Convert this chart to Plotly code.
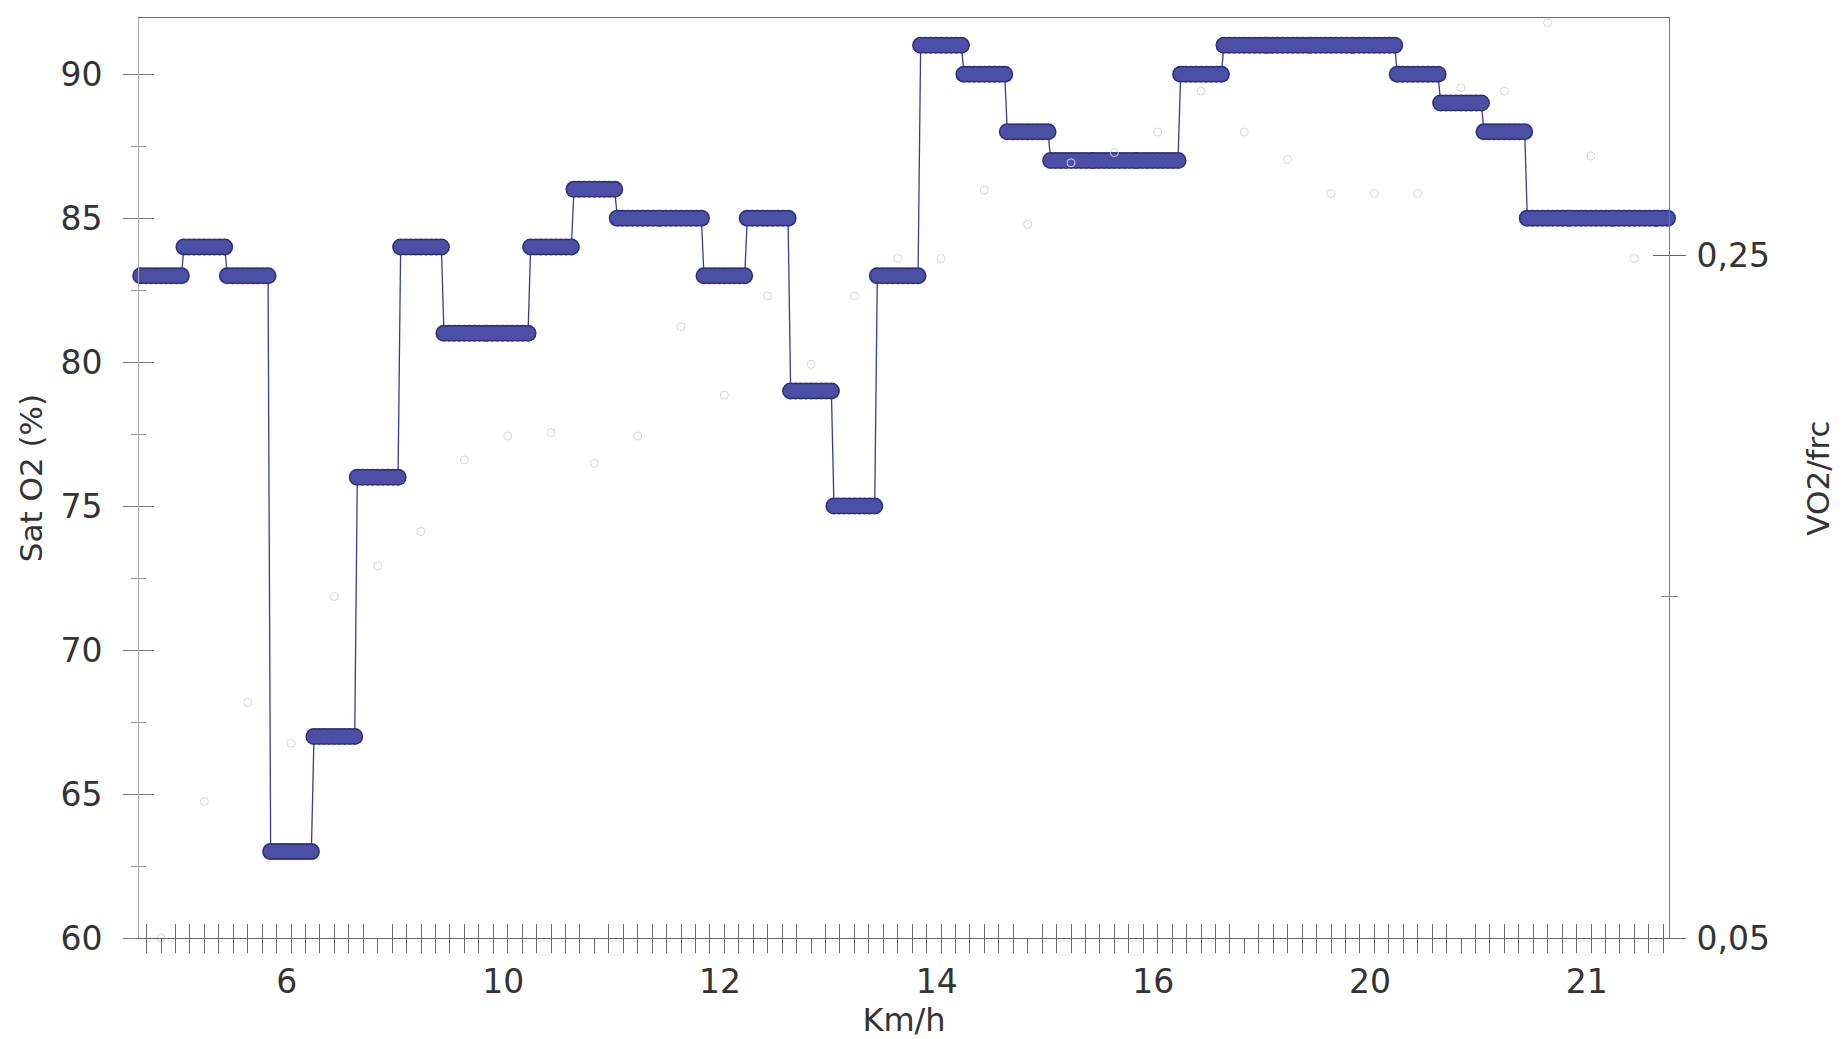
import numpy as np
import plotly.graph_objects as go

# ---- data ----
step_index = list(range(36))
sat_o2 = [83, 84, 83, 63, 67, 76, 84, 81, 81, 84, 86, 85, 85, 83, 85, 79, 75, 83,
          91, 90, 88, 87, 87, 87, 90, 91, 91, 91, 91, 90, 89, 88, 85, 85, 85, 85]

vo2_index = list(range(35))
vo2_frc = [0.050, 0.090, 0.119, 0.107, 0.150, 0.159, 0.169, 0.190, 0.197, 0.198,
           0.189, 0.197, 0.229, 0.209, 0.238, 0.218, 0.238, 0.249, 0.249, 0.269,
           0.259, 0.277, 0.280, 0.286, 0.298, 0.286, 0.278, 0.268, 0.268, 0.268,
           0.299, 0.298, 0.318, 0.279, 0.249]

kmh_labels = ["6", "10", "12", "14", "16", "20", "21"]
kmh_pos = [2.9, 7.9, 12.9, 17.9, 22.9, 27.9, 32.9]

sat_ticks = [60, 65, 70, 75, 80, 85, 90]
vo2_ticks = [0.05, 0.25]
vo2_ticktext = ["0,05", "0,25"]

# each reading is drawn as an elongated (stadium) blob: repeat the value
# across the width of the step
offsets = np.linspace(-0.47, 0.47, 9)
xs = [i + o for i in step_index for o in offsets]
ys = [v for v in sat_o2 for _ in offsets]

FONT = "DejaVu Sans"
TXT = "#333333"

fig = go.Figure()
fig.add_trace(go.Scatter(x=xs, y=ys, mode="lines",
                         line=dict(color="#3a3d8c", width=1.3),
                         cliponaxis=True, showlegend=False, hoverinfo="skip"))
fig.add_trace(go.Scatter(x=xs, y=ys, mode="markers",
                         marker=dict(size=17, color="#2b2e78", line=dict(width=0)),
                         cliponaxis=False, showlegend=False))
fig.add_trace(go.Scatter(x=xs, y=ys, mode="markers",
                         marker=dict(size=14, color="#4b4fa6", line=dict(width=0)),
                         cliponaxis=False, showlegend=False, hoverinfo="skip"))
fig.add_trace(go.Scatter(x=vo2_index, y=vo2_frc, mode="markers", xaxis="x2", yaxis="y2",
                         marker=dict(size=8, symbol="circle-open", color="#d6d6d6",
                                     line=dict(width=1)),
                         cliponaxis=False, showlegend=False))
# empty traces so the overlay (inner-tick) axes exist
fig.add_trace(go.Scatter(x=[], y=[], xaxis="x", yaxis="y3", showlegend=False))
fig.add_trace(go.Scatter(x=[], y=[], xaxis="x", yaxis="y4", showlegend=False))

tickfont = dict(family=FONT, size=33, color=TXT)

fig.update_layout(
    width=1846, height=1039,
    margin=dict(l=131, r=185, t=10, b=109),
    paper_bgcolor="white", plot_bgcolor="white",
    font=dict(family=FONT, color=TXT),
    xaxis=dict(range=[-0.508, 34.80], tickmode="array", tickvals=kmh_pos,
               ticktext=kmh_labels, ticks="", tickfont=tickfont,
               ticklabelstandoff=14,
               showgrid=False, zeroline=False, showline=True, linecolor="#666",
               linewidth=1, mirror=True,
               minor=dict(ticks="outside", ticklen=14, tickmode="linear", tick0=0,
                          dtick=1/3, tickcolor="#6a6a6a", tickwidth=1.3,
                          showgrid=False),
               title=dict(text="Km/h", font=dict(family=FONT, size=32, color=TXT),
                          standoff=3)),
    xaxis2=dict(overlaying="x", matches="x", anchor="y", side="bottom",
                showticklabels=False, ticks="", showgrid=False, zeroline=False,
                showline=False,
                minor=dict(ticks="inside", ticklen=14, tickmode="linear", tick0=0,
                           dtick=1/3, tickcolor="#6a6a6a", tickwidth=1.3,
                           showgrid=False)),
    yaxis=dict(range=[60, 91.95], tickmode="array", tickvals=sat_ticks,
               ticks="outside", ticklen=15, tickcolor="#777", tickwidth=1.2,
               tickfont=tickfont, ticklabelstandoff=14,
               showgrid=False, zeroline=False, showline=True, linecolor="#aaa",
               minor=dict(ticks="outside", ticklen=7, tick0=60, dtick=2.5,
                          tickcolor="#999", showgrid=False),
               title=dict(text="Sat O2 (%)", font=dict(family=FONT, size=31, color=TXT),
                          standoff=8)),
    yaxis3=dict(overlaying="y", matches="y", anchor="x", side="left",
                showticklabels=False, ticks="inside", ticklen=15, tickcolor="#777",
                tickwidth=1.2, tickmode="array", tickvals=sat_ticks,
                showgrid=False, zeroline=False, showline=False,
                minor=dict(ticks="inside", ticklen=7, tick0=60, dtick=2.5,
                           tickcolor="#999", showgrid=False)),
    yaxis2=dict(overlaying="y", side="right", anchor="x", range=[0.05, 0.3194],
                tickmode="array", tickvals=vo2_ticks, ticktext=vo2_ticktext,
                ticks="outside", ticklen=16, tickcolor="#666", tickwidth=1.2,
                tickfont=tickfont, ticklabelstandoff=4,
                showgrid=False, zeroline=False, showline=True, linecolor="#777",
                minor=dict(ticks="outside", ticklen=8, tick0=0.05, dtick=0.1,
                           tickcolor="#888", showgrid=False),
                title=dict(text="VO2/frc", font=dict(family=FONT, size=31, color=TXT),
                           standoff=38)),
    yaxis4=dict(overlaying="y", matches="y2", side="right", anchor="x",
                showticklabels=False, ticks="inside", ticklen=16, tickcolor="#666",
                tickwidth=1.2, tickmode="array", tickvals=vo2_ticks,
                showgrid=False, zeroline=False, showline=False,
                minor=dict(ticks="inside", ticklen=8, tick0=0.05, dtick=0.1,
                           tickcolor="#888", showgrid=False)),
)

fig.write_html("out.html")
